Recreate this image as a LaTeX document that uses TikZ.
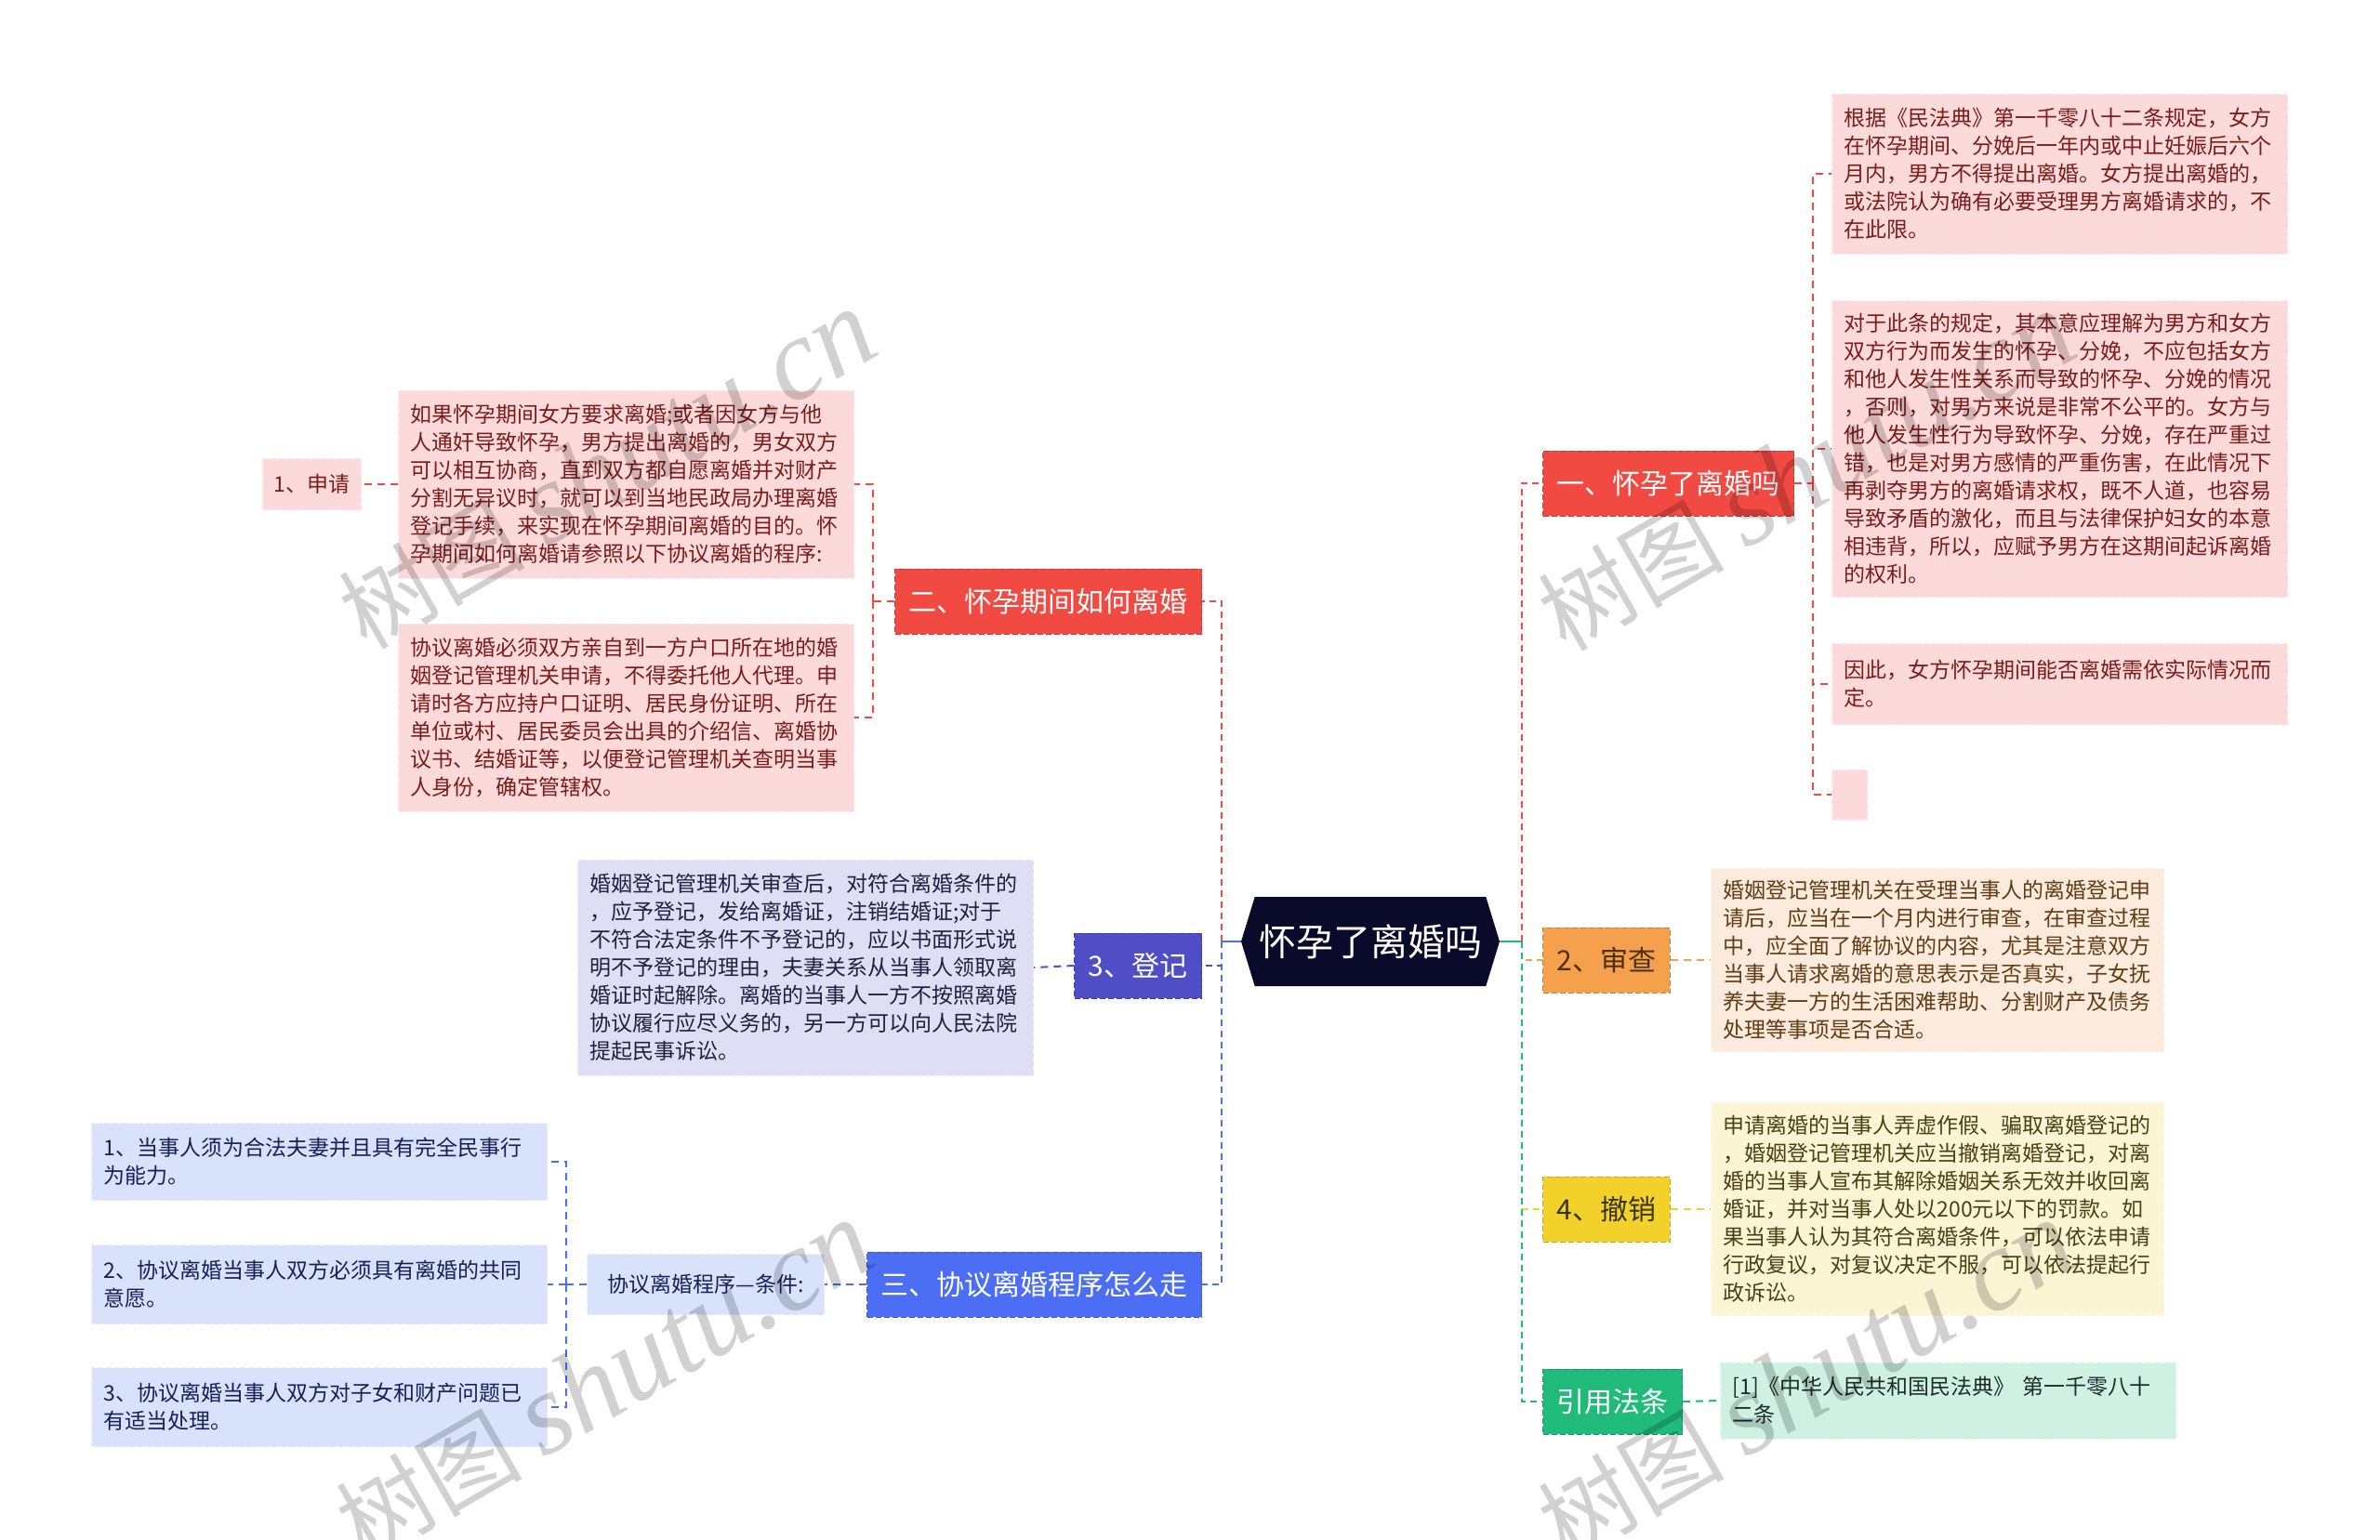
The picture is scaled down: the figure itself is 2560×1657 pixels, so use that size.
\documentclass[tikz,border=0pt]{standalone}
\usepackage{fontspec}
\setmainfont{Noto Sans CJK SC}
\newfontfamily\wmserif{Liberation Serif}
\usepackage{tikz}
\usetikzlibrary{shapes.symbols}

\definecolor{rootfill}{RGB}{10,10,42}
\definecolor{redmain}{RGB}{241,74,66}
\definecolor{redsoft}{RGB}{253,218,218}
\definecolor{redtext}{RGB}{122,28,28}
\definecolor{indigomain}{RGB}{80,78,198}
\definecolor{indigosoft}{RGB}{222,222,244}
\definecolor{indigotext}{RGB}{32,32,66}
\definecolor{bluemain}{RGB}{76,110,245}
\definecolor{bluesoft}{RGB}{216,226,250}
\definecolor{bluetext}{RGB}{22,32,88}
\definecolor{orangemain}{RGB}{245,160,76}
\definecolor{orangesoft}{RGB}{252,234,220}
\definecolor{orangetext}{RGB}{96,60,20}
\definecolor{yellowmain}{RGB}{242,210,42}
\definecolor{yellowsoft}{RGB}{251,245,212}
\definecolor{yellowtext}{RGB}{74,64,20}
\definecolor{greenmain}{RGB}{32,186,122}
\definecolor{greensoft}{RGB}{206,241,226}
\definecolor{greentext}{RGB}{28,44,44}

\begin{document}
\begin{tikzpicture}[x=1pt,y=1pt,yscale=-1,
  rootnode/.style={shape=signal, signal to=east and west, signal pointer angle=146,
    fill=rootfill, text=white, inner xsep=4, inner ysep=0,
    minimum width=278, minimum height=96, font=\fontsize{40}{48}\selectfont},
  branchbox/.style={draw=#1!80!black, fill=#1, dash pattern=on 6pt off 3pt, line width=1,
    inner xsep=15, inner ysep=0, minimum height=70, font=\fontsize{30}{36}\selectfont},
  leafbox/.style={draw=#1!60!white, fill=#1, dash pattern=on 6pt off 3pt, line width=1,
    text width=464, align=left, inner xsep=13, inner ysep=0, font=\fontsize{23}{30}\selectfont},
  tagbox/.style={draw=#1!60!white, fill=#1, dash pattern=on 6pt off 3pt, line width=1,
    inner xsep=12, inner ysep=0, font=\fontsize{23}{30}\selectfont},
  trunkline/.style={draw=#1, line width=2.6, dash pattern=on 7pt off 5pt},
  twigline/.style={draw=#1, line width=2, dash pattern=on 8pt off 6pt},
  watermark/.style={text=black, opacity=0.18, rotate=30, inner sep=0, font=\fontsize{100}{110}\selectfont}
]
\useasboundingbox (0,0) rectangle (2560,1657);

%Shape: Hexagon [id:root]
\node[rootnode] (root) at (1474,1013) {怀孕了离婚吗};

%Shape: Rectangle [id:branches right]
\node[branchbox=redmain, text=white, anchor=west] (yi) at (1659,520) {一、怀孕了离婚吗};
\node[branchbox=orangemain, text=orangetext!80!black, anchor=west] (shencha) at (1659,1033) {2、审查};
\node[branchbox=yellowmain, text=yellowtext!80!black, anchor=west] (chexiao) at (1659,1301) {4、撤销};
\node[branchbox=greenmain, text=white, anchor=west] (fatiao) at (1659,1508) {引用法条};

%Shape: Rectangle [id:branches left]
\node[branchbox=redmain, text=white, anchor=east] (er) at (1293,647) {二、怀孕期间如何离婚};
\node[branchbox=indigomain, text=white, anchor=east] (dengji) at (1293,1039) {3、登记};
\node[branchbox=bluemain, text=white, anchor=east] (san) at (1293,1382) {三、协议离婚程序怎么走};

%Shape: Rectangle [id:leaves of yi]
\node[leafbox=redsoft, text=redtext, anchor=west, minimum height=172] (yiA) at (1970,187) {根据《民法典》第一千零八十二条规定，女方\\在怀孕期间、分娩后一年内或中止妊娠后六个\\月内，男方不得提出离婚。女方提出离婚的，\\或法院认为确有必要受理男方离婚请求的，不\\在此限。};
\node[leafbox=redsoft, text=redtext, anchor=west, minimum height=319] (yiB) at (1970,483) {对于此条的规定，其本意应理解为男方和女方\\双方行为而发生的怀孕、分娩，不应包括女方\\和他人发生性关系而导致的怀孕、分娩的情况\\，否则，对男方来说是非常不公平的。女方与\\他人发生性行为导致怀孕、分娩，存在严重过\\错，也是对男方感情的严重伤害，在此情况下\\再剥夺男方的离婚请求权，既不人道，也容易\\导致矛盾的激化，而且与法律保护妇女的本意\\相违背，所以，应赋予男方在这期间起诉离婚\\的权利。};
\node[leafbox=redsoft, text=redtext, anchor=west, minimum height=87] (yiC) at (1970,736) {因此，女方怀孕期间能否离婚需依实际情况而\\定。};
\node[leafbox=redsoft, anchor=west, text width=12, minimum height=54] (yiD) at (1970,855) {};

%Shape: Rectangle [id:leaves of er]
\node[leafbox=redsoft, text=redtext, anchor=east, minimum height=202] (erA) at (919,521) {如果怀孕期间女方要求离婚;或者因女方与他\\人通奸导致怀孕，男方提出离婚的，男女双方\\可以相互协商，直到双方都自愿离婚并对财产\\分割无异议时，就可以到当地民政局办理离婚\\登记手续，来实现在怀孕期间离婚的目的。怀\\孕期间如何离婚请参照以下协议离婚的程序:};
\node[leafbox=redsoft, text=redtext, anchor=east, minimum height=202] (erB) at (919,772) {协议离婚必须双方亲自到一方户口所在地的婚\\姻登记管理机关申请，不得委托他人代理。申\\请时各方应持户口证明、居民身份证明、所在\\单位或村、居民委员会出具的介绍信、离婚协\\议书、结婚证等，以便登记管理机关查明当事\\人身份，确定管辖权。};
\node[tagbox=redsoft, text=redtext, anchor=east, minimum height=55] (shenqing) at (389,521) {1、申请};

%Shape: Rectangle [id:leaf of dengji]
\node[leafbox=indigosoft, text=indigotext, anchor=east, minimum height=232] (dengjiA) at (1112,1041) {婚姻登记管理机关审查后，对符合离婚条件的\\，应予登记，发给离婚证，注销结婚证;对于\\不符合法定条件不予登记的，应以书面形式说\\明不予登记的理由，夫妻关系从当事人领取离\\婚证时起解除。离婚的当事人一方不按照离婚\\协议履行应尽义务的，另一方可以向人民法院\\提起民事诉讼。};

%Shape: Rectangle [id:leaves of san]
\node[tagbox=bluesoft, text=bluetext, anchor=east, minimum height=65, minimum width=255] (tiaojian) at (887,1382) {协议离婚程序—条件:};
\node[leafbox=bluesoft, text=bluetext, anchor=east, minimum height=83] (k1) at (589,1250) {1、当事人须为合法夫妻并且具有完全民事行\\为能力。};
\node[leafbox=bluesoft, text=bluetext, anchor=east, minimum height=85] (k2) at (589,1382) {2、协议离婚当事人双方必须具有离婚的共同\\意愿。};
\node[leafbox=bluesoft, text=bluetext, anchor=east, minimum height=85] (k3) at (589,1514) {3、协议离婚当事人双方对子女和财产问题已\\有适当处理。};

%Shape: Rectangle [id:leaves right]
\node[leafbox=orangesoft, text=orangetext, anchor=west, text width=461, minimum height=197] (shenchaA) at (1840,1033) {婚姻登记管理机关在受理当事人的离婚登记申\\请后，应当在一个月内进行审查，在审查过程\\中，应全面了解协议的内容，尤其是注意双方\\当事人请求离婚的意思表示是否真实，子女抚\\养夫妻一方的生活困难帮助、分割财产及债务\\处理等事项是否合适。};
\node[leafbox=yellowsoft, text=yellowtext, anchor=west, text width=461, minimum height=229] (chexiaoA) at (1840,1301) {申请离婚的当事人弄虚作假、骗取离婚登记的\\，婚姻登记管理机关应当撤销离婚登记，对离\\婚的当事人宣布其解除婚姻关系无效并收回离\\婚证，并对当事人处以200元以下的罚款。如\\果当事人认为其符合离婚条件，可以依法申请\\行政复议，对复议决定不服，可以依法提起行\\政诉讼。};
\node[leafbox=greensoft, text=greentext, anchor=west, minimum height=82] (fatiaoA) at (1850,1507) {[1]《中华人民共和国民法典》 第一千零八十\\二条};

%Straight Lines [id:trunks]
\coordinate (rt) at (1637,1013);
\coordinate (lt) at (1314,1013);
\draw[trunkline=redmain] (rt) |- (yi.west);
\draw[trunkline=orangemain] (rt) |- (shencha.west);
\draw[trunkline=yellowmain] (rt) |- (chexiao.west);
\draw[trunkline=greenmain] (rt) |- (fatiao.west);
\draw[greenmain, line width=2.6] (root.east) -- (rt);
\draw[trunkline=redmain] (lt) |- (er.east);
\draw[trunkline=indigomain] (lt) |- (dengji.east);
\draw[trunkline=bluemain] (lt) |- (san.east);
\draw[bluemain, line width=2.6] (root.west) -- (lt);

%Straight Lines [id:twigs]
\coordinate (yiT) at (1950,520);
\coordinate (erT) at (939,647);
\coordinate (tjT) at (609,1382);
\draw[twigline=redmain] (yi.east) -- (yiT);
\foreach \n in {yiA,yiB,yiC,yiD} \draw[twigline=redmain] (yiT) |- (\n.west);
\draw[twigline=redmain] (er.west) -- (erT);
\foreach \n in {erA,erB} \draw[twigline=redmain] (erT) |- (\n.east);
\draw[twigline=redmain] (erA.west) -- (shenqing.east);
\draw[twigline=indigomain] (dengji.west) -- (dengjiA.east);
\draw[twigline=bluemain] (san.west) -- (tiaojian.east);
\draw[twigline=bluemain] (tiaojian.west) -- (tjT);
\foreach \n in {k1,k2,k3} \draw[twigline=bluemain] (tjT) |- (\n.east);
\draw[twigline=orangemain] (shencha.east) -- (shenchaA.west);
\draw[twigline=yellowmain] (chexiao.east) -- (chexiaoA.west);
\draw[twigline=greenmain] (fatiao.east) -- (fatiaoA.west);

%Text [id:watermarks]
\node[watermark] (wm1) at (653,506) {树图 {\wmserif\itshape\fontsize{125}{130}\selectfont shutu.cn}};
\node[watermark] (wm2) at (1943,508) {树图 {\wmserif\itshape\fontsize{125}{130}\selectfont shutu.cn}};
\node[watermark] (wm3) at (650,1486) {树图 {\wmserif\itshape\fontsize{125}{130}\selectfont shutu.cn}};
\node[watermark] (wm4) at (1943,1486) {树图 {\wmserif\itshape\fontsize{125}{130}\selectfont shutu.cn}};
\end{tikzpicture}
\end{document}
